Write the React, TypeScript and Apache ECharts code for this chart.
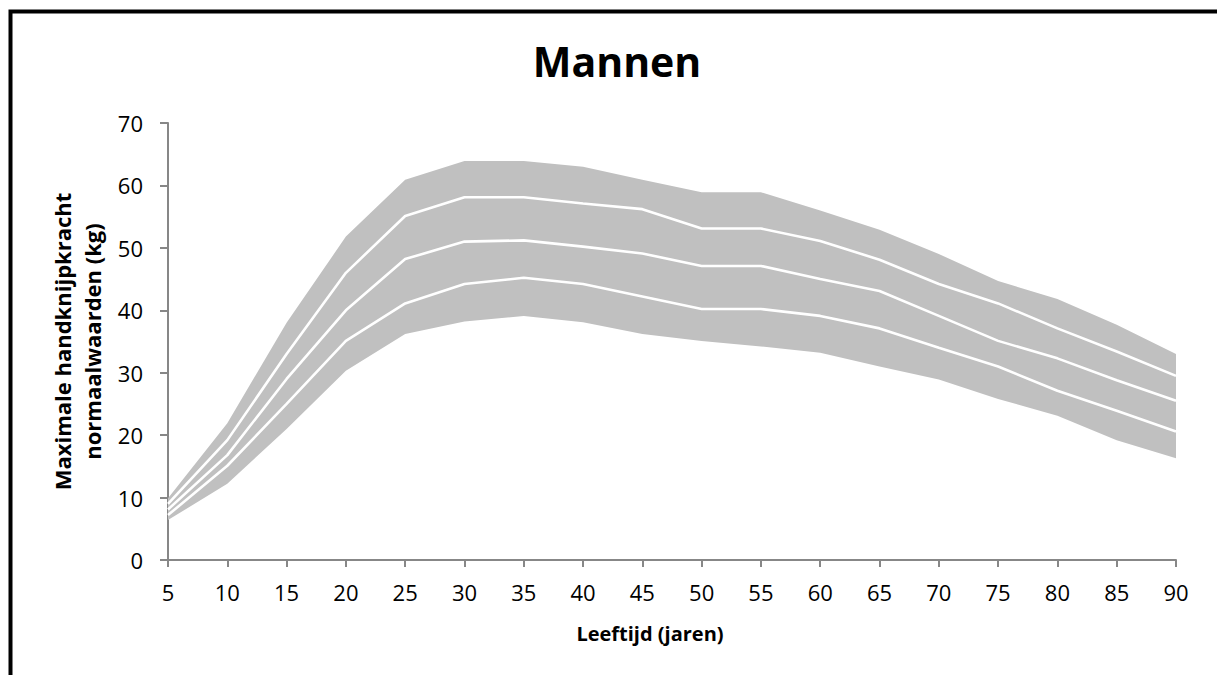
import React, { useEffect, useRef } from "react";
import * as echarts from "echarts";

const ages = ["5", "10", "15", "20", "25", "30", "35", "40", "45", "50", "55", "60", "65", "70", "75", "80", "85", "90"];
const lowerBound = [6.4, 12.2, 21, 30.3, 36.2, 38.2, 39.1, 38.1, 36.2, 35.1, 34.2, 33.2, 31, 28.9, 25.8, 23.1, 19.2, 16.3];
const line1 = [7.2, 15.1, 25, 35.1, 41.1, 44.2, 45.2, 44.2, 42.2, 40.2, 40.2, 39.1, 37.1, 34, 31, 27.1, 23.9, 20.6];
const line2 = [8.1, 16.8, 29, 40, 48.2, 51, 51.2, 50.2, 49.1, 47.1, 47.1, 45, 43.1, 39.1, 35.1, 32.3, 28.8, 25.5];
const line3 = [9.0, 19.2, 33, 46, 55.1, 58.1, 58.1, 57.1, 56.2, 53.1, 53.1, 51.1, 48.1, 44.2, 41.1, 37.1, 33.4, 29.5];
const upperBound = [9.9, 21.9, 38, 51.8, 60.9, 63.9, 63.9, 63, 60.9, 58.9, 58.9, 56, 52.9, 49, 44.7, 41.8, 37.7, 33];

const FONT = "'Open Sans', 'Noto Sans', sans-serif";
const GRAY = "#c0c0c0";
const AXIS = "#878787";

export default function App() {
  const ref = useRef<HTMLDivElement>(null);
  useEffect(() => {
    document.body.style.margin = "0";
    if (!ref.current) return;
    const chart = echarts.init(ref.current, null, { renderer: "svg" });
    const bandWidth = upperBound.map((v, i) => +(v - lowerBound[i]).toFixed(2));
    const whiteLine = (name: string, data: number[]) => ({
      name,
      type: "line",
      data,
      showSymbol: false,
      symbol: "none",
      z: 5,
      lineStyle: { color: "#ffffff", width: 2.6 },
      silent: true,
    });
    chart.setOption({
      animation: false,
      backgroundColor: "#ffffff",
      title: {
        text: "Mannen",
        left: 612,
        top: 35,
        textAlign: "center",
        textStyle: { fontFamily: FONT, fontSize: 41, fontWeight: "bold", color: "#000" },
      },
      grid: { left: 168, right: 41, top: 123, bottom: 115, containLabel: false },
      xAxis: {
        type: "category",
        data: ages,
        boundaryGap: false,
        name: "Leeftijd (jaren)",
        nameLocation: "middle",
        nameGap: 63,
        nameTextStyle: { fontFamily: FONT, fontSize: 20, fontWeight: "bold", color: "#000", padding: [0, 44, 0, 0] },
        axisLine: { lineStyle: { color: AXIS, width: 2 } },
        axisTick: { show: true, length: 7, inside: false, lineStyle: { color: AXIS, width: 2 }, alignWithLabel: true },
        axisLabel: { interval: 0, margin: 21, fontFamily: FONT, fontSize: 22, color: "#000" },
        splitLine: { show: false },
      },
      yAxis: {
        type: "value",
        min: 0,
        max: 70,
        interval: 10,
        name: "Maximale handknijpkracht\nnormaalwaarden (kg)",
        nameLocation: "middle",
        nameRotate: 90,
        nameGap: 58,
        nameTextStyle: { fontFamily: FONT, fontSize: 22, fontWeight: "bold", color: "#000", lineHeight: 30, align: "center" },
        axisLine: { show: true, lineStyle: { color: AXIS, width: 2 } },
        axisTick: { show: true, length: 8, lineStyle: { color: AXIS, width: 2 } },
        axisLabel: { margin: 25, fontFamily: FONT, fontSize: 22, color: "#000" },
        splitLine: { show: false },
      },
      graphic: [
        {
          type: "rect",
          shape: { x: 10.5, y: 11.5, width: 1400, height: 900 },
          style: { fill: "none", stroke: "#000000", lineWidth: 4 },
          silent: true,
          z: 100,
        },
      ],
      series: [
        {
          name: "Ondergrens",
          type: "line",
          stack: "band",
          data: lowerBound,
          showSymbol: false,
          symbol: "none",
          lineStyle: { width: 0, opacity: 0 },
          areaStyle: { opacity: 0 },
          silent: true,
        },
        {
          name: "Bandbreedte",
          type: "line",
          stack: "band",
          data: bandWidth,
          showSymbol: false,
          symbol: "none",
          lineStyle: { width: 0, opacity: 0 },
          areaStyle: { color: GRAY, opacity: 1 },
          silent: true,
        },
        whiteLine("Lijn 1", line1),
        whiteLine("Lijn 2", line2),
        whiteLine("Lijn 3", line3),
      ],
    });
    return () => chart.dispose();
  }, []);
  return <div ref={ref} style={{ width: 1217, height: 675 }} />;
}
